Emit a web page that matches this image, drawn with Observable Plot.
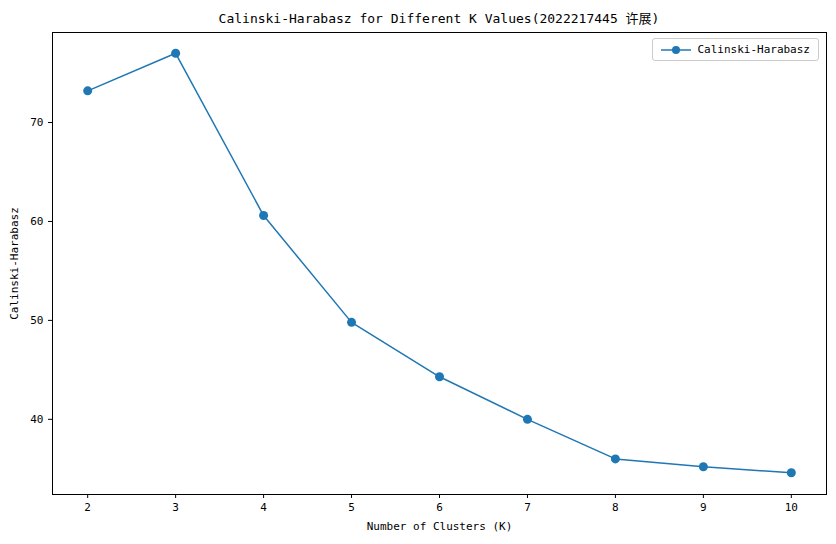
<!DOCTYPE html>
<html>
<head>
<meta charset="utf-8">
<script src="https://cdn.jsdelivr.net/npm/d3@7"></script>
<script src="https://cdn.jsdelivr.net/npm/@observablehq/plot@0.6"></script>
<style>
  body { margin: 0; background: #fff; }
  #wrap { position: relative; width: 836px; height: 544px; font-family: "DejaVu Sans Mono", "Noto Sans CJK SC", monospace; }
  #title { position: absolute; top: 8px; left: 52px; width: 774px; text-align: center; font-size: 13px; }
  #legend { position: absolute; top: 38px; right: 17px; border: 1px solid #ccc; border-radius: 3px; background: #fff;
            font-size: 11px; padding: 4px 8px; display: flex; align-items: center; gap: 6px; }
</style>
</head>
<body>
<div id="wrap">
  <div id="title">Calinski-Harabasz for Different K Values(2022217445 许展)</div>
  <div id="chart"></div>
  <div id="legend">
    <svg width="30" height="10"><line x1="0" y1="5" x2="30" y2="5" stroke="#1f77b4" stroke-width="1.5"/><circle cx="15" cy="5" r="4" fill="#1f77b4"/></svg>
    <span>Calinski-Harabasz</span>
  </div>
</div>
<script>
const kValues = [2, 3, 4, 5, 6, 7, 8, 9, 10];
const chScores = [73.2, 77.0, 60.6, 49.8, 44.3, 40.0, 36.0, 35.2, 34.6];
const yTicks = [40, 50, 60, 70];

const data = kValues.map((k, i) => ({k, ch: chScores[i]}));

const chart = Plot.plot({
  width: 836,
  height: 544,
  marginLeft: 52,
  marginRight: 10,
  marginTop: 32,
  marginBottom: 50,
  style: {fontFamily: "DejaVu Sans Mono, Noto Sans CJK SC, monospace", fontSize: "11px", color: "#000"},
  x: {domain: [1.6, 10.4], ticks: kValues, tickFormat: "d", label: "Number of Clusters (K)", labelArrow: "none", labelAnchor: "center", labelOffset: 35, tickSize: 4},
  y: {domain: [32.4, 79.1], ticks: yTicks, label: "Calinski-Harabasz", labelArrow: "none", labelAnchor: "center", labelOffset: 42, tickSize: 4},
  marks: [
    Plot.frame({stroke: "#000"}),
    Plot.line(data, {x: "k", y: "ch", stroke: "#1f77b4", strokeWidth: 1.5}),
    Plot.dot(data, {x: "k", y: "ch", fill: "#1f77b4", r: 4.5})
  ]
});
document.getElementById("chart").append(chart);
</script>
</body>
</html>
